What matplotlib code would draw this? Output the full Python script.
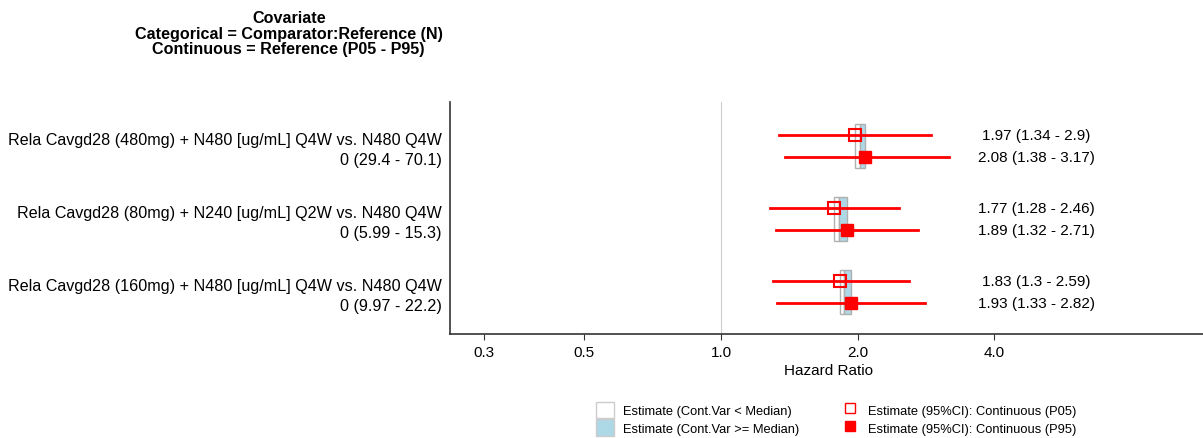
import numpy as np
import matplotlib
matplotlib.use("Agg")
import matplotlib.pyplot as plt
from matplotlib.patches import Patch, Rectangle
from matplotlib.lines import Line2D

plt.rcParams['font.family'] = ['Liberation Sans', 'DejaVu Sans']

# data
labels = ["Rela Cavgd28 (480mg) + N480 [ug/mL] Q4W vs. N480 Q4W\n0 (29.4 - 70.1)",
          "Rela Cavgd28 (80mg) + N240 [ug/mL] Q2W vs. N480 Q4W\n0 (5.99 - 15.3)",
          "Rela Cavgd28 (160mg) + N480 [ug/mL] Q4W vs. N480 Q4W\n0 (9.97 - 22.2)"]
p05_est = [1.97, 1.77, 1.83]
p05_lo = [1.34, 1.28, 1.30]
p05_hi = [2.90, 2.46, 2.59]
p95_est = [2.08, 1.89, 1.93]
p95_lo = [1.38, 1.32, 1.33]
p95_hi = [3.17, 2.71, 2.82]
median_est = [2.02, 1.82, 1.87]
xticks = [0.3, 0.5, 1.0, 2.0, 4.0]

fig = plt.figure(figsize=(12.03, 4.39), dpi=100)
ax = fig.add_axes([0.374, 0.237, 0.63, 0.528])
ax.set_xscale('log')

ypos = np.array([3, 2, 1])
off = 0.15
ax.axvline(1.0, color='#cccccc', lw=0.8, zorder=0)

for i, y in enumerate(ypos):
    # boxes between P05 estimate, median and P95 estimate
    ax.add_patch(Rectangle((p05_est[i], y - 0.3), median_est[i] - p05_est[i], 0.6,
                           facecolor='white', edgecolor='#b0b0b0', lw=1.0, zorder=1))
    ax.add_patch(Rectangle((median_est[i], y - 0.3), p95_est[i] - median_est[i], 0.6,
                           facecolor='#add8e6', edgecolor='#b0b0b0', lw=1.0, zorder=1))
    ax.plot([p05_lo[i], p05_hi[i]], [y + off, y + off], color='red', lw=2, zorder=2)
    ax.plot([p95_lo[i], p95_hi[i]], [y - off, y - off], color='red', lw=2, zorder=2)
    ax.plot(p05_est[i], y + off, marker='s', ms=8, mfc='none', mec='red', mew=1.5, zorder=3)
    ax.plot(p95_est[i], y - off, marker='s', ms=8, color='red', zorder=3)
    ax.text(4.95, y + off, "{} ({} - {})".format(p05_est[i], p05_lo[i], p05_hi[i]),
            ha='center', va='center', fontsize=11)
    ax.text(4.95, y - off, "{} ({} - {})".format(p95_est[i], p95_lo[i], p95_hi[i]),
            ha='center', va='center', fontsize=11)

ax.set_xlim(0.253, 11.8)
ax.set_ylim(0.425, 3.6)
ax.set_yticks(ypos)
ax.set_yticklabels(labels, fontsize=11.6, linespacing=1.4, ha='right')
ax.tick_params(axis='y', length=0, pad=6)
ax.set_xticks(xticks)
ax.set_xticklabels(["{:.1f}".format(t) for t in xticks], fontsize=11)
ax.xaxis.set_minor_locator(matplotlib.ticker.NullLocator())
ax.tick_params(axis='x', length=4, color='#333333', pad=4)
ax.set_xlabel("Hazard Ratio", fontsize=11, labelpad=3)
for s in ['top', 'right']:
    ax.spines[s].set_visible(False)
for s in ['left', 'bottom']:
    ax.spines[s].set_color('#333333')
    ax.spines[s].set_linewidth(1.2)

fig.text(0.24, 0.975, "Covariate\nCategorical = Comparator:Reference (N)\nContinuous = Reference (P05 - P95)",
         ha='center', va='top', fontsize=11.6, fontweight='bold', linespacing=1.05)

handles = [Patch(facecolor='white', edgecolor='#cccccc'),
           Patch(facecolor='#add8e6', edgecolor='#cccccc'),
           Line2D([], [], color='red', marker='s', mfc='none', mec='red', ms=7, linestyle='none'),
           Line2D([], [], color='red', marker='s', ms=7, linestyle='none')]
leg_labels = ["Estimate (Cont.Var < Median)", "Estimate (Cont.Var >= Median)",
              "Estimate (95%CI): Continuous (P05)", "Estimate (95%CI): Continuous (P95)"]
fig.legend(handles, leg_labels, ncol=2, fontsize=9.3, frameon=False,
           loc='center', bbox_to_anchor=(0.695, 0.044), handlelength=1.4,
           handleheight=1.55, handletextpad=0.7, columnspacing=3.2, labelspacing=0.12)

fig.savefig("out.png", dpi=100)
